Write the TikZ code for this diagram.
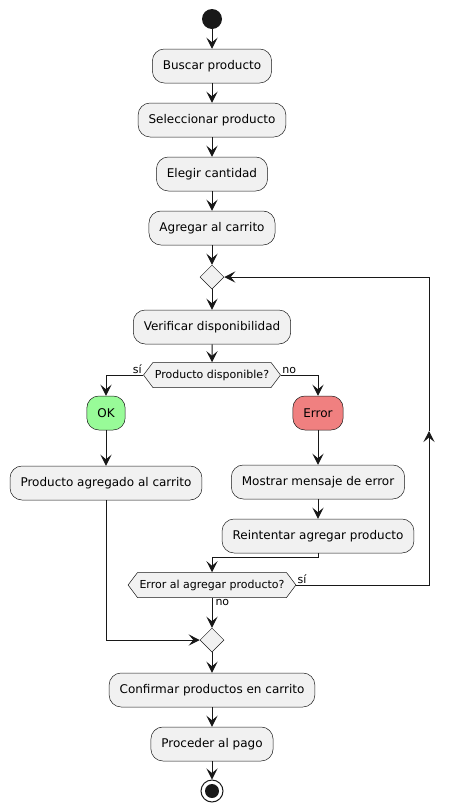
\documentclass[tikz,border=0pt]{standalone}
\usepackage{fontspec}
\setmainfont{DejaVu Sans}
\usetikzlibrary{shapes.geometric}
\usetikzlibrary{shapes.symbols}
\usetikzlibrary{arrows.meta}
\definecolor{actfill}{HTML}{F1F1F1}
\definecolor{lineclr}{HTML}{181818}
\definecolor{okgreen}{HTML}{98FB98}
\definecolor{errred}{HTML}{F08080}

\begin{document}
\begin{tikzpicture}[x=1pt, y=-1pt,
    action/.style={draw=lineclr, line width=0.5pt, fill=actfill, rounded corners=12pt, minimum height=34pt, inner xsep=10.5pt, font=\fontsize{12}{14}\selectfont},
    ask/.style={draw=lineclr, line width=0.5pt, fill=actfill, shape=signal, signal to=west and east, signal pointer angle=106, minimum height=25pt, inner xsep=2pt, font=\fontsize{11}{13}\selectfont},
    merge/.style={draw=lineclr, line width=0.5pt, fill=actfill, diamond, minimum size=24pt, inner sep=0pt},
    flow/.style={draw=lineclr, line width=1pt, -{Stealth[length=11pt,width=11pt,inset=4.5pt]}},
    lbl/.style={font=\fontsize{11}{13}\selectfont, inner sep=1pt}]
            % Activity flow for adding a product to the cart
            \useasboundingbox (0,0) rectangle (453,812);
            \node[circle, fill=lineclr, minimum size=20pt, inner sep=0pt] (start) at (212,19) {};
            \node[action] (buscar) at (212,66) {Buscar producto};
            \node[action] (seleccionar) at (212,120) {Seleccionar producto};
            \node[action] (cantidad) at (212,174) {Elegir cantidad};
            \node[action] (agregar) at (212,228) {Agregar al carrito};
            \node[merge] (m1) at (212,277) {};
            \node[action] (verif) at (212,327) {Verificar disponibilidad};
            \node[ask] (q1) at (212,375) {Producto disponible?};
            \node[action, fill=okgreen] (ok) at (106,413) {OK};
            \node[action, fill=errred] (err) at (318,413) {Error};
            \node[action] (agregado) at (106,483) {Producto agregado al carrito};
            \node[action] (mostrar) at (318,482) {Mostrar mensaje de error};
            \node[action] (reint) at (318,536) {Reintentar agregar producto};
            \node[ask] (q2) at (212,585) {Error al agregar producto?};
            \node[merge] (m2) at (212,640) {};
            \node[action] (confirmar) at (212,690) {Confirmar productos en carrito};
            \node[action] (pago) at (212,744) {Proceder al pago};
            \node[circle, draw=lineclr, line width=1pt, minimum size=22pt, inner sep=0pt] (stop) at (212,791) {};
            \node[circle, fill=lineclr, minimum size=14pt, inner sep=0pt] (stopdot) at (stop) {};
            \coordinate (j1) at (318,557);
            \coordinate (loopm) at (429,431);

            \draw[flow] (start) -- (buscar);
            \draw[flow] (buscar) -- (seleccionar);
            \draw[flow] (seleccionar) -- (cantidad);
            \draw[flow] (cantidad) -- (agregar);
            \draw[flow] (agregar) -- (m1);
            \draw[flow] (m1) -- (verif);
            \draw[flow] (verif) -- (q1);
            \draw[flow] (q1.west) -| node[lbl, anchor=south east, pos=0] {sí} (ok);
            \draw[flow] (q1.east) -| node[lbl, anchor=south west, pos=0] {no} (err);
            \draw[flow] (ok) -- (agregado);
            \draw[flow] (err) -- (mostrar);
            \draw[flow] (mostrar) -- (reint);
            \draw[flow] (reint) -- (j1) -| (q2);
            \draw[flow] (q2.east) -| node[lbl, anchor=south west, pos=0] {sí} (loopm);
            \draw[flow] (loopm) |- (m1);
            \draw[flow] (q2.south) -- node[lbl, anchor=north west, pos=0, xshift=2pt] {no} (m2);
            \draw[flow] (agregado) |- (m2);
            \draw[flow] (m2) -- (confirmar);
            \draw[flow] (confirmar) -- (pago);
            \draw[flow] (pago) -- (stop);
        \end{tikzpicture}
\end{document}
